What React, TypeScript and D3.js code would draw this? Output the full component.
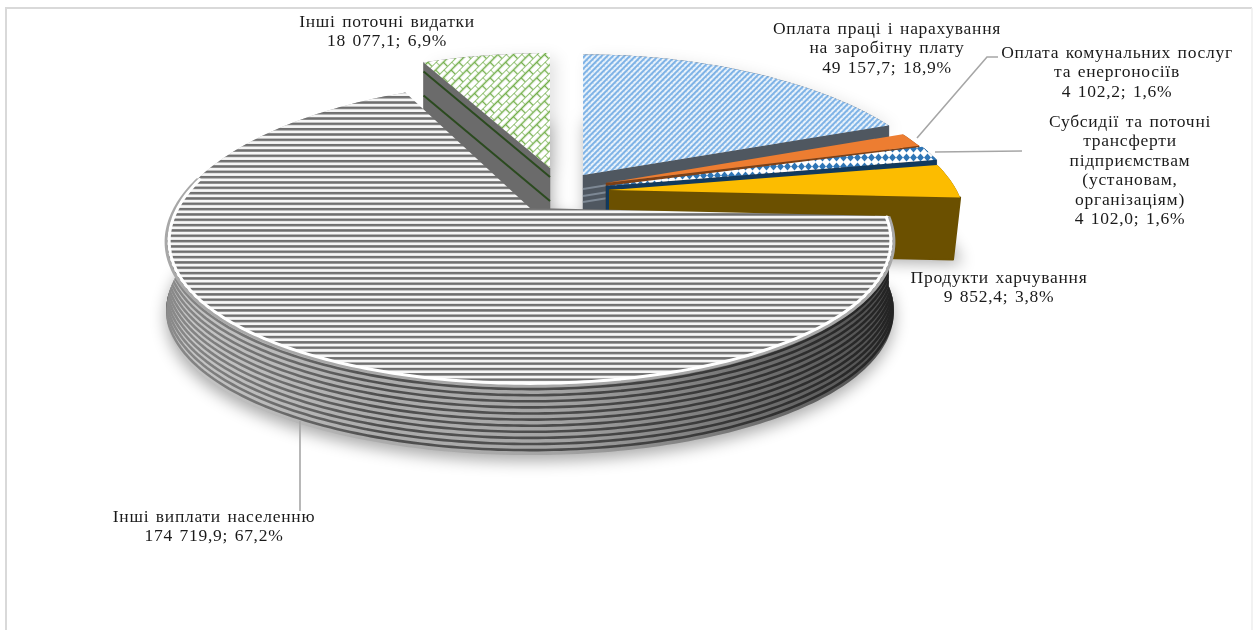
import React from 'react';
import * as d3 from 'd3';

const categories = [
  'Оплата праці і нарахування на заробітну плату',
  'Оплата комунальних послуг та енергоносіїв',
  'Субсидії та поточні трансферти підприємствам (установам, організаціям)',
  'Продукти харчування',
  'Інші виплати населенню',
  'Інші поточні видатки',
];
const values = [49157.7, 4102.2, 4102.0, 9852.4, 174719.9, 18077.1];
const valueLabels = [
  '49 157,7; 18,9%',
  '4 102,2; 1,6%',
  '4 102,0; 1,6%',
  '9 852,4; 3,8%',
  '174 719,9; 67,2%',
  '18 077,1; 6,9%',
];

const categoryLines = [
  ['Оплата праці і нарахування', 'на заробітну плату'],
  ['Оплата комунальних послуг', 'та енергоносіїв'],
  ['Субсидії та поточні', 'трансферти', 'підприємствам', '(установам,', 'організаціям)'],
  ['Продукти харчування'],
  ['Інші виплати населенню'],
  ['Інші поточні видатки'],
];

// where each slice sits once pulled out of the pie, and how it is painted
const exploded = [
  { dx: 53, dy: -33, sx: 1.006, sy: 0.96, depth: 64, lowR: 1, fill: 'url(#blueWeave)', wall: '#4f5760' },
  { dx: 76, dy: -25, sx: 0.976, sy: 0.945, depth: 64, lowR: 1, fill: '#ed7d31', wall: '#7d4016' },
  { dx: 76, dy: -22, sx: 0.986, sy: 1, depth: 64, lowR: 1, fill: 'url(#blueDiamond)', wall: '#123a5e' },
  { dx: 80, dy: -18, sx: 0.976, sy: 0.96, depth: 62, lowR: 0.98, fill: '#fcbc00', wall: '#6b5000' },
  { dx: 0, dy: 0, sx: 1, sy: 1, depth: 70, lowR: 1, fill: 'url(#hStripes)', wall: '#ababab' },
  { dx: 20, dy: -40, sx: 1.014, sy: 0.915, depth: 66, lowR: 1, fill: 'url(#greenBrick)', wall: '#6b6b6b' },
];
const labelBoxes = [
  { x: 887, y: 34 },
  { x: 1117, y: 58 },
  { x: 1130, y: 127 },
  { x: 999, y: 283 },
  { x: 214, y: 522 },
  { x: 387, y: 27 },
];

const width = 1253;
const height = 630;
const cx = 530;
const cy = 208;
const rx = 355;
const ry = 147;
const persp = 0.17; // back of the pie is squeezed, front is stretched
const lineH = 19.4;

type Pt = [number, number];
type Slice = (typeof exploded)[number];

const project = (theta: number, r: number, s: Slice, yOff = 0): Pt => {
  const X = r * Math.sin(theta);
  const Z = r * Math.cos(theta);
  const f = 1 / (1 + persp * Z);
  return [cx + s.dx + rx * X * Math.pow(f, 1.3) * s.sx, cy + s.dy - ry * Z * f * s.sy + yOff];
};

const arcPts = (a0: number, a1: number, r: number, s: Slice, yOff = 0): Pt[] => {
  const n = Math.max(6, Math.ceil(((a1 - a0) * 180) / Math.PI));
  const t = d3.scaleLinear().domain([0, n]).range([a0, a1]);
  return d3.range(n + 1).map((i) => project(t(i), r, s, yOff));
};

const line = d3.line<Pt>();
const closed = (pts: Pt[]) => (line(pts) || '') + 'Z';

const pieGen = d3
  .pie<number>()
  .sort(null)
  .value((d) => d)
  .startAngle(0)
  .endAngle(2 * Math.PI);
const arcs = pieGen(values);

const mainIdx = 4;
const drawOrder = [5, 0, 1, 2, 3];

const SliceBody: React.FC<{ i: number }> = ({ i }) => {
  const s = exploded[i];
  const a = arcs[i];
  const apex = project(0, 0, s);
  const apexLow = project(0, 0, s, s.depth);
  const rim = arcPts(a.startAngle, a.endAngle, 1, s);
  const rimLow = arcPts(a.startAngle, a.endAngle, s.lowR, s, s.depth);
  const cutAngle = i === 5 ? a.startAngle : a.endAngle;
  const cutEnd = project(cutAngle, 1, s);
  const cutLow = project(cutAngle, s.lowR, s, s.depth);
  const cut = closed([apex, cutEnd, cutLow, apexLow]);
  const rimWall = closed([...rim, ...rimLow.slice().reverse()]);
  const stripe = (off: number) => line([project(0, 0, s, off), project(cutAngle, 1, s, off)]) || '';
  return (
    <g>
      <path d={rimWall} fill={s.wall} />
      <path d={cut} fill={s.wall} stroke={s.wall} strokeWidth={i === 3 ? 2 : 0.5} strokeLinejoin="round" />
      {i === 5 && (
        <g stroke="#2b4a1f" strokeWidth={2} fill="none">
          <path d={stripe(9)} />
          <path d={stripe(33)} />
        </g>
      )}
      {i === 0 && (
        <g stroke="#7d8894" strokeWidth={2} fill="none">
          <path d={stripe(14)} />
          <path d={stripe(21)} />
          <path d={stripe(27)} />
        </g>
      )}
      <path d={closed([apex, ...rim])} fill={s.fill} />
    </g>
  );
};

const MainSlice: React.FC = () => {
  const s = exploded[mainIdx];
  const a = arcs[mainIdx];
  const rim = arcPts(a.startAngle, a.endAngle, 1, s);
  const rimLow = arcPts(a.startAngle, a.endAngle, 1, s, s.depth);
  const wall = closed([...rim, ...rimLow.slice().reverse()]);
  const bands = d3.range(11).map((k) => 4 + k * 6.1);
  const bevelEnd = (282 * Math.PI) / 180;
  return (
    <g>
      <clipPath id="mainWall">
        <path d={wall} />
      </clipPath>
      <path d={wall} fill={s.wall} />
      <g clipPath="url(#mainWall)" fill="none" stroke="#4e4e4e" strokeWidth={2.6}>
        {bands.map((b) => (
          <path key={b} d={line(arcPts(a.startAngle, a.endAngle, 1, s, b)) || ''} />
        ))}
      </g>
      <path d={wall} fill="url(#wallShade)" />
      <path d={closed([project(0, 0, s), ...rim])} fill={s.fill} />
      <path d={line(arcPts(a.startAngle, bevelEnd, 1, s, 0.5)) || ''} fill="none" stroke="#a8a8a8" strokeWidth={3} />
      <path d={line(arcPts(a.startAngle, bevelEnd, 0.992, s)) || ''} fill="none" stroke="#fff" strokeWidth={3} />
    </g>
  );
};

const App: React.FC = () => {
  const main = arcs[mainIdx];
  const mainSlice = exploded[mainIdx];
  const shadowMain = closed([
    ...arcPts(main.startAngle, main.endAngle, 1, mainSlice, mainSlice.depth + 6),
    project(0, 0, mainSlice),
  ]);
  const shadowParts = drawOrder.map((i) => {
    const a = arcs[i];
    const s = exploded[i];
    return closed([project(0, 0, s, s.depth), ...arcPts(a.startAngle, a.endAngle, 1, s, s.depth)]);
  });
  const backParts = [0, 5].map((i) => closed([project(0, 0, exploded[i]), ...arcPts(arcs[i].startAngle, arcs[i].endAngle, 1, exploded[i])]));

  return (
    <svg
      width={width}
      height={height}
      style={{ position: 'fixed', left: 0, top: 0, background: '#fff' }}
      fontFamily="'Liberation Serif', serif"
      fontSize={17.5}
      letterSpacing={0.72}
      fill="#1a1a1a"
    >
      <defs>
        <filter id="soft" filterUnits="userSpaceOnUse" x={0} y={0} width={width} height={height}>
          <feGaussianBlur stdDeviation={8} />
        </filter>
        <linearGradient id="wallShade" gradientUnits="userSpaceOnUse" x1={165} x2={892} y1={0} y2={0}>
          <stop offset="0" stopColor="#fff" stopOpacity={0.35} />
          <stop offset="0.3" stopColor="#fff" stopOpacity={0} />
          <stop offset="0.55" stopColor="#000" stopOpacity={0.05} />
          <stop offset="1" stopColor="#000" stopOpacity={0.55} />
        </linearGradient>
        <pattern id="hStripes" patternUnits="userSpaceOnUse" width={8} height={5.33}>
          <rect width={8} height={5.33} fill="#f6f6f6" />
          <rect width={8} height={2.5} fill="#6f6f6f" />
        </pattern>
        <pattern id="blueWeave" patternUnits="userSpaceOnUse" width={4} height={4} patternTransform="rotate(-45)">
          <rect width={4} height={4} fill="#eaf3fb" />
          <rect width={4} height={2} fill="#7fb3e6" />
          <rect width={1} height={1} y={2} fill="#b8d4f0" />
        </pattern>
        <pattern id="greenBrick" patternUnits="userSpaceOnUse" width={11} height={11} patternTransform="rotate(-45)">
          <rect width={11} height={11} fill="#fff" />
          <path d="M0 0H11M0 5.5H11M0 0V5.5M5.5 5.5V11" stroke="#70ad47" strokeWidth={1.3} fill="none" />
        </pattern>
        <pattern id="blueDiamond" patternUnits="userSpaceOnUse" width={14} height={9}>
          <rect width={14} height={9} fill="#fff" />
          <path d="M3.5 0.5L7 4.5L3.5 8.5L0 4.5ZM10.5 0.5L14 4.5L10.5 8.5L7 4.5Z" fill="#2e75b6" />
        </pattern>
      </defs>

      {/* outer chart frame */}
      <path d={`M6 ${height}V8H${width - 1}`} fill="none" stroke="#d9d9d9" strokeWidth={2} />
      <path d={`M${width - 1} 8V${height}`} fill="none" stroke="#eeeeee" strokeWidth={1.5} />

      {/* soft shadows */}
      <g filter="url(#soft)" fill="#000" opacity={0.34}>
        {backParts.map((d, k) => (
          <path key={k} d={d} transform="translate(6,4)" opacity={0.35} />
        ))}
        {shadowParts.map((d, k) => (
          <path key={k} d={d} transform="translate(2,4)" />
        ))}
        <path d={shadowMain} />
      </g>

      {drawOrder.map((i) => (
        <SliceBody key={categories[i]} i={i} />
      ))}
      <MainSlice />

      {/* leader lines */}
      <g fill="none" stroke="#a6a6a6" strokeWidth={1.6}>
        <path d="M917 138L987 57H998" />
        <path d="M935 152L1022 151" />
        <path d="M300 421V511" />
      </g>

      {categoryLines.map((lines, i) => (
        <text key={categories[i]} textAnchor="middle" wordSpacing={1.5}>
          {[...lines, valueLabels[i]].map((t, k) => (
            <tspan key={t} x={labelBoxes[i].x} y={labelBoxes[i].y + k * lineH}>
              {t}
            </tspan>
          ))}
        </text>
      ))}
    </svg>
  );
};

export default App;
